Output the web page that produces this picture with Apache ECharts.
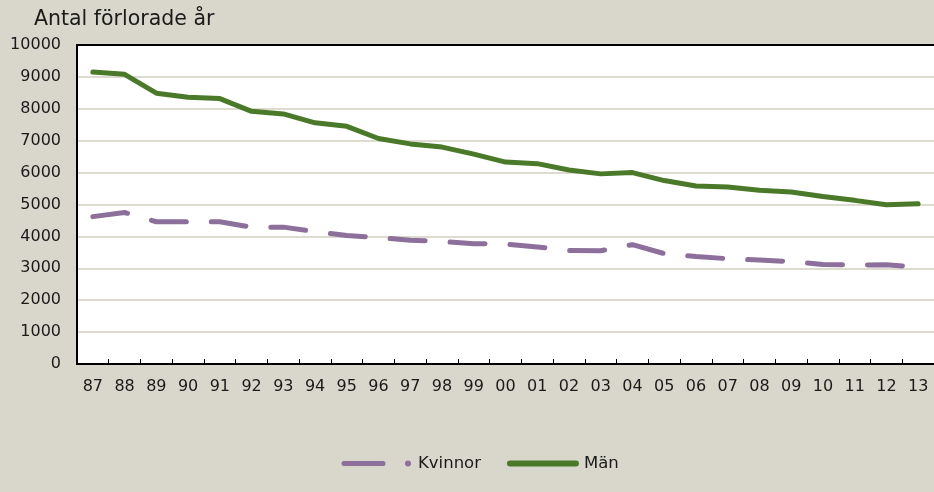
<!DOCTYPE html>
<html>
<head>
<meta charset="utf-8">
<script src="https://cdn.jsdelivr.net/npm/echarts@6/dist/echarts.min.js"></script>
<style>
html,body{margin:0;padding:0;background:#d9d7cb;}
#c{width:934px;height:492px;}
</style>
</head>
<body>
<div id="c"></div>
<script>
const years = ['87','88','89','90','91','92','93','94','95','96','97','98','99','00','01','02','03','04','05','06','07','08','09','10','11','12','13'];
const kvinnor = [4620,4750,4460,4460,4460,4290,4290,4150,4030,3960,3880,3840,3770,3760,3670,3560,3550,3740,3460,3370,3300,3260,3210,3120,3100,3110,3040];
const man = [9150,9080,8490,8360,8320,7920,7840,7560,7450,7070,6900,6800,6580,6330,6280,6080,5960,6000,5750,5580,5550,5450,5390,5250,5130,4990,5020];
const yTitle = 'Antal förlorade år';

const FONT = 'DejaVu Sans';
const iconK = 'path://M3,0.5H42A2.5,2.5 0 0 1 42,5.5H3A2.5,2.5 0 0 1 3,0.5Z M67,0A3,3 0 0 1 67,6A3,3 0 0 1 67,0Z M0,3H0.01 M72,3H71.99';
const iconM = 'path://M3,0H69A3,3 0 0 1 69,6H3A3,3 0 0 1 3,0Z';
const chart = echarts.init(document.getElementById('c'));
chart.setOption({
  backgroundColor: '#d9d7cb',
  animation: false,
  textStyle: {fontFamily: FONT},
  title: {
    text: yTitle, left: 29, top: 4,
    textStyle: {fontFamily: FONT, fontSize: 20.5, fontWeight: 'normal', color: '#1a1a1a'}
  },
  grid: {left: 77, right: 0, top: 45, bottom: 128, backgroundColor: '#ffffff', show: true, borderWidth: 0},
  legend: {
    bottom: 20, left: 341, padding: 0,
    itemWidth: 72, itemHeight: 6, itemGap: 26,
    symbolKeepAspect: false,
    textStyle: {fontFamily: FONT, fontSize: 16.5, color: '#1a1a1a'},
    data: [{name: 'Kvinnor', icon: iconK}, {name: 'Män', icon: iconM}]
  },
  xAxis: [{
    type: 'category', data: years, boundaryGap: true,
    axisLine: {lineStyle: {color: '#000', width: 2}},
    axisTick: {show: true, inside: true, length: 5, lineStyle: {color: '#000', width: 1}},
    axisLabel: {fontFamily: FONT, fontSize: 16, color: '#1a1a1a', margin: 15},
    splitLine: {show: false}
  }, {
    type: 'category', data: years, position: 'top',
    axisLine: {show: true, lineStyle: {color: '#000', width: 2}},
    axisTick: {show: false}, axisLabel: {show: false}, splitLine: {show: false}
  }],
  yAxis: {
    type: 'value', min: 0, max: 10000, interval: 1000,
    axisLine: {show: true, lineStyle: {color: '#000', width: 2}},
    axisTick: {show: false},
    axisLabel: {fontFamily: FONT, fontSize: 16, color: '#1a1a1a', margin: 16, formatter: v => String(v)},
    splitLine: {lineStyle: {color: '#dedbd0', width: 2}}
  },
  series: [{
    name: 'Kvinnor', type: 'line', data: kvinnor, xAxisIndex: 0,
    symbol: 'none', color: '#8c6f9b',
    lineStyle: {width: 5, type: [35, 25], cap: 'round', color: '#8c6f9b'}
  }, {
    name: 'Män', type: 'line', data: man, xAxisIndex: 0,
    symbol: 'none', color: '#4a7a29',
    lineStyle: {width: 5, color: '#4a7a29', cap: 'round'}
  }]
});
</script>
</body>
</html>
